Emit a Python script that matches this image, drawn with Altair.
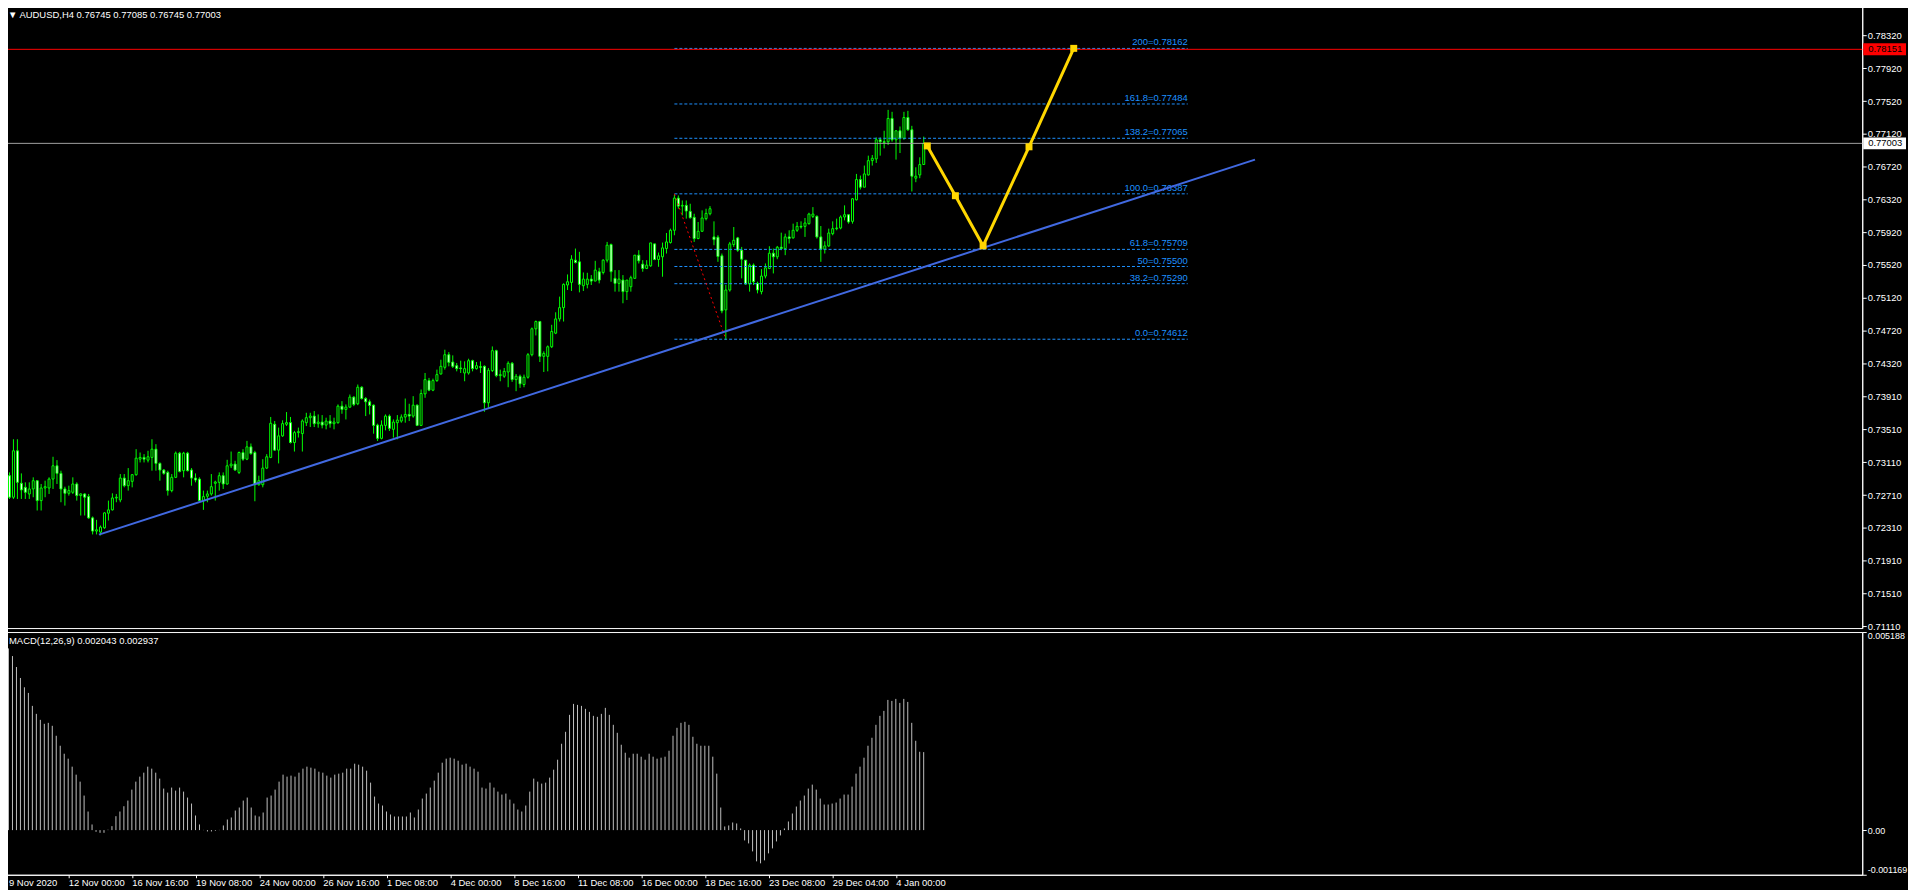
import altair as alt
import pandas as pd

# ---------------- data ----------------
open_ = [0.72946,0.72683,0.73250,0.72853,0.72804,0.72723,0.72784,0.72885,0.72642,0.72796,
 0.72796,0.72905,0.73067,0.72974,0.72784,0.72731,0.72743,0.72845,0.72703,0.72723,
 0.72691,0.72431,0.72270,0.72257,0.72310,0.72488,0.72529,0.72674,0.72650,0.72917,
 0.72824,0.72877,0.72958,0.73148,0.73169,0.73136,0.73169,0.73270,0.73096,0.73015,
 0.72986,0.72764,0.72926,0.73221,0.73007,0.73221,0.73015,0.72917,0.72905,0.72642,
 0.72695,0.72723,0.72853,0.72865,0.72946,0.72845,0.73067,0.73088,0.72986,0.73229,
 0.73148,0.73298,0.73229,0.72836,0.72836,0.73039,0.73169,0.73574,0.73258,0.73432,
 0.73574,0.73594,0.73351,0.73472,0.73460,0.73593,0.73654,0.73674,0.73581,0.73601,
 0.73564,0.73613,0.73581,0.73593,0.73795,0.73755,0.73783,0.73905,0.73824,0.74026,
 0.73888,0.73848,0.73807,0.73564,0.73402,0.73560,0.73674,0.73512,0.73593,0.73613,
 0.73662,0.73694,0.73674,0.73807,0.73560,0.73945,0.74107,0.73990,0.74107,0.74188,
 0.74269,0.74423,0.74334,0.74289,0.74261,0.74200,0.74200,0.74350,0.74253,0.74277,
 0.74281,0.73836,0.74229,0.74472,0.74168,0.74160,0.74212,0.74318,0.74119,0.74160,
 0.74059,0.74148,0.74423,0.74739,0.74828,0.74403,0.74403,0.74520,0.74686,0.74860,
 0.74998,0.75274,0.75306,0.75577,0.75557,0.75265,0.75282,0.75346,0.75322,0.75436,
 0.75427,0.75577,0.75768,0.75355,0.75294,0.75334,0.75193,0.75253,0.75355,0.75638,
 0.75529,0.75476,0.75508,0.75776,0.75585,0.75618,0.75719,0.75792,0.75942,0.76335,
 0.76237,0.76246,0.76173,0.76100,0.75841,0.75930,0.76084,0.76144,0.75861,0.75857,
 0.75630,0.74970,0.75213,0.75768,0.75849,0.75699,0.75577,0.75286,0.75517,0.75294,
 0.75193,0.75383,0.75476,0.75662,0.75618,0.75735,0.75719,0.75861,0.75849,0.75942,
 0.75990,0.75990,0.76023,0.76112,0.76112,0.75861,0.75711,0.75751,0.75901,0.75962,
 0.75970,0.76104,0.76132,0.76051,0.76314,0.76561,0.76468,0.76618,0.76792,0.76813,
 0.77047,0.77023,0.77023,0.77307,0.77047,0.77157,0.77064,0.77319,0.77169,0.76578,
 0.76618,0.76745]
high = [0.72986,0.73391,0.73391,0.72974,0.72865,0.72865,0.72926,0.72885,0.72845,0.72885,
 0.72926,0.73177,0.73136,0.73007,0.72812,0.72824,0.72926,0.72865,0.72731,0.72731,
 0.72723,0.72448,0.72407,0.72338,0.72500,0.72642,0.72731,0.72723,0.72966,0.72966,
 0.73039,0.72966,0.73270,0.73229,0.73209,0.73250,0.73391,0.73331,0.73108,0.73027,
 0.73007,0.72966,0.73241,0.73237,0.73237,0.73237,0.73039,0.72974,0.72926,0.72764,
 0.72764,0.72966,0.72885,0.72986,0.72986,0.73140,0.73241,0.73128,0.73241,0.73270,
 0.73371,0.73339,0.73250,0.72946,0.73148,0.73209,0.73663,0.73614,0.73533,0.73622,
 0.73723,0.73663,0.73493,0.73533,0.73634,0.73714,0.73714,0.73735,0.73694,0.73686,
 0.73654,0.73686,0.73654,0.73816,0.73856,0.73816,0.73937,0.73917,0.74059,0.74038,
 0.73905,0.73876,0.73816,0.73581,0.73621,0.73694,0.73694,0.73633,0.73686,0.73694,
 0.73888,0.73824,0.73917,0.73816,0.73998,0.74200,0.74140,0.74131,0.74241,0.74362,
 0.74484,0.74455,0.74415,0.74322,0.74350,0.74342,0.74374,0.74362,0.74334,0.74342,
 0.74293,0.74261,0.74524,0.74484,0.74241,0.74261,0.74342,0.74334,0.74188,0.74180,
 0.74180,0.74443,0.74755,0.74840,0.74836,0.74464,0.74536,0.74788,0.74941,0.75132,
 0.75294,0.75403,0.75638,0.75719,0.75679,0.75427,0.75423,0.75395,0.75569,0.75484,
 0.75589,0.75800,0.75780,0.75456,0.75456,0.75395,0.75274,0.75387,0.75638,0.75699,
 0.75577,0.75577,0.75788,0.75776,0.75670,0.75792,0.75909,0.75962,0.76375,0.76367,
 0.76306,0.76306,0.76266,0.76144,0.76043,0.76185,0.76205,0.76237,0.76051,0.75881,
 0.75658,0.75274,0.75800,0.75982,0.75861,0.75739,0.75577,0.75537,0.75537,0.75314,
 0.75468,0.75537,0.75747,0.75719,0.75751,0.75913,0.75901,0.75942,0.76023,0.76043,
 0.76051,0.76092,0.76156,0.76225,0.76124,0.75994,0.75808,0.75962,0.76051,0.76084,
 0.76124,0.76246,0.76132,0.76335,0.76630,0.76610,0.76732,0.76853,0.76861,0.77076,
 0.77076,0.77157,0.77412,0.77388,0.77157,0.77209,0.77388,0.77400,0.77217,0.76711,
 0.76833,0.77085]
low = [0.72662,0.72662,0.72662,0.72662,0.72662,0.72662,0.72683,0.72521,0.72521,0.72683,
 0.72723,0.72784,0.72845,0.72622,0.72581,0.72703,0.72723,0.72642,0.72460,0.72460,
 0.72419,0.72229,0.72229,0.72217,0.72298,0.72399,0.72521,0.72622,0.72622,0.72804,
 0.72764,0.72804,0.72946,0.73108,0.73108,0.73108,0.73007,0.73007,0.72885,0.72958,
 0.72703,0.72743,0.72917,0.72986,0.72926,0.72998,0.72824,0.72865,0.72634,0.72529,
 0.72622,0.72703,0.72642,0.72764,0.72784,0.72836,0.73039,0.73007,0.72966,0.73128,
 0.73136,0.73201,0.72634,0.72824,0.72804,0.73027,0.73160,0.73250,0.73096,0.73420,
 0.73553,0.73339,0.73241,0.73412,0.73241,0.73552,0.73540,0.73540,0.73532,0.73524,
 0.73512,0.73532,0.73512,0.73581,0.73702,0.73633,0.73775,0.73795,0.73807,0.73876,
 0.73674,0.73694,0.73459,0.73370,0.73390,0.73500,0.73492,0.73411,0.73390,0.73593,
 0.73593,0.73613,0.73654,0.73552,0.73552,0.73897,0.73978,0.73978,0.74091,0.74180,
 0.74241,0.74281,0.74261,0.74220,0.74200,0.74099,0.74180,0.74220,0.74241,0.74200,
 0.73726,0.73775,0.74212,0.74148,0.74099,0.74140,0.74026,0.74091,0.73978,0.74018,
 0.74026,0.74131,0.74403,0.74658,0.74334,0.74212,0.74220,0.74504,0.74674,0.74828,
 0.74828,0.75213,0.75201,0.75537,0.75184,0.75201,0.75233,0.75274,0.75322,0.75294,
 0.75403,0.75549,0.75314,0.75193,0.75193,0.75051,0.75091,0.75193,0.75355,0.75537,
 0.75436,0.75468,0.75496,0.75577,0.75496,0.75375,0.75658,0.75780,0.75881,0.76205,
 0.76124,0.76084,0.76084,0.75800,0.75833,0.75922,0.76063,0.76124,0.75760,0.75557,
 0.74929,0.74605,0.75193,0.75739,0.75679,0.75355,0.75274,0.75193,0.75274,0.75172,
 0.75160,0.75355,0.75468,0.75415,0.75589,0.75699,0.75638,0.75780,0.75841,0.75922,
 0.75962,0.75861,0.76011,0.76092,0.75841,0.75557,0.75658,0.75739,0.75881,0.75942,
 0.75954,0.76063,0.76023,0.76023,0.76306,0.76440,0.76468,0.76610,0.76732,0.76764,
 0.76853,0.76942,0.76983,0.77023,0.76805,0.76885,0.77047,0.77157,0.76416,0.76529,
 0.76578,0.76745]
close = [0.72683,0.73250,0.72865,0.72772,0.72743,0.72784,0.72885,0.72642,0.72796,0.72812,
 0.72905,0.73067,0.72974,0.72784,0.72731,0.72764,0.72845,0.72703,0.72723,0.72683,
 0.72431,0.72270,0.72286,0.72318,0.72492,0.72529,0.72674,0.72683,0.72917,0.72824,
 0.72885,0.72958,0.73160,0.73169,0.73148,0.73177,0.73270,0.73096,0.73015,0.72974,
 0.72764,0.72926,0.73221,0.72998,0.73221,0.73007,0.72917,0.72893,0.72642,0.72691,
 0.72723,0.72812,0.72869,0.72946,0.72845,0.73067,0.73088,0.73015,0.73229,0.73148,
 0.73298,0.73217,0.72836,0.72885,0.73039,0.73177,0.73586,0.73258,0.73432,0.73582,
 0.73594,0.73351,0.73472,0.73484,0.73614,0.73654,0.73674,0.73581,0.73601,0.73564,
 0.73613,0.73581,0.73601,0.73795,0.73755,0.73783,0.73905,0.73816,0.74026,0.73888,
 0.73848,0.73803,0.73560,0.73402,0.73564,0.73674,0.73524,0.73601,0.73625,0.73662,
 0.73694,0.73674,0.73807,0.73560,0.73949,0.74119,0.73990,0.74107,0.74180,0.74281,
 0.74423,0.74330,0.74281,0.74253,0.74253,0.74253,0.74350,0.74253,0.74289,0.74269,
 0.73836,0.74233,0.74472,0.74168,0.74180,0.74220,0.74318,0.74119,0.74160,0.74067,
 0.74148,0.74423,0.74739,0.74828,0.74403,0.74439,0.74520,0.74707,0.74860,0.74998,
 0.75282,0.75314,0.75589,0.75549,0.75282,0.75346,0.75346,0.75322,0.75456,0.75334,
 0.75577,0.75760,0.75436,0.75294,0.75346,0.75193,0.75334,0.75363,0.75638,0.75569,
 0.75476,0.75517,0.75788,0.75585,0.75630,0.75727,0.75800,0.75942,0.76335,0.76237,
 0.76246,0.76177,0.76096,0.75841,0.75930,0.76092,0.76148,0.76205,0.75828,0.75622,
 0.74958,0.75213,0.75776,0.75820,0.75699,0.75589,0.75286,0.75517,0.75314,0.75213,
 0.75383,0.75484,0.75662,0.75618,0.75735,0.75719,0.75861,0.75841,0.75942,0.75990,
 0.75982,0.76031,0.76140,0.76140,0.75861,0.75711,0.75751,0.75909,0.75962,0.75970,
 0.76104,0.76132,0.76043,0.76327,0.76561,0.76468,0.76630,0.76792,0.76821,0.77047,
 0.77023,0.77015,0.77307,0.77047,0.77157,0.77064,0.77319,0.77169,0.76602,0.76602,
 0.76744,0.77003]
macd_hist = [0.004559,0.004759,0.004559,0.004272,0.003985,0.003741,0.003593,0.003254,0.003045,0.002888,
 0.002784,0.002810,0.002732,0.002471,0.002210,0.002001,0.001871,0.001662,0.001453,0.001270,
 0.000905,0.000487,0.000148,-0.000044,-0.000070,-0.000070,0.000010,0.000104,0.000365,0.000487,
 0.000626,0.000774,0.001061,0.001270,0.001401,0.001505,0.001662,0.001610,0.001505,0.001349,
 0.001088,0.000983,0.001114,0.001035,0.001114,0.001009,0.000853,0.000696,0.000383,0.000148,
 0.000005,-0.000035,-0.000035,-0.000017,0.000005,0.000122,0.000278,0.000331,0.000513,0.000592,
 0.000774,0.000853,0.000592,0.000383,0.000357,0.000461,0.000853,0.000905,0.001061,0.001270,
 0.001453,0.001401,0.001427,0.001401,0.001505,0.001610,0.001662,0.001636,0.001610,0.001531,
 0.001505,0.001427,0.001375,0.001453,0.001479,0.001505,0.001610,0.001610,0.001740,0.001714,
 0.001662,0.001557,0.001244,0.000879,0.000696,0.000644,0.000487,0.000409,0.000357,0.000357,
 0.000357,0.000357,0.000461,0.000331,0.000539,0.000827,0.000957,0.001114,0.001296,0.001505,
 0.001766,0.001871,0.001897,0.001871,0.001818,0.001714,0.001740,0.001662,0.001610,0.001531,
 0.001114,0.001088,0.001244,0.001114,0.001009,0.000931,0.000957,0.000800,0.000696,0.000539,
 0.000487,0.000644,0.001009,0.001349,0.001270,0.001218,0.001244,0.001375,0.001583,0.001844,
 0.002262,0.002575,0.003019,0.003306,0.003280,0.003254,0.003176,0.003097,0.002993,0.002967,
 0.003045,0.003202,0.003019,0.002758,0.002549,0.002236,0.002027,0.001897,0.002001,0.002001,
 0.001923,0.001844,0.002001,0.001923,0.001871,0.001897,0.001923,0.002079,0.002471,0.002680,
 0.002810,0.002836,0.002758,0.002445,0.002262,0.002210,0.002210,0.002210,0.001923,0.001479,
 0.000592,0.000096,0.000122,0.000200,0.000174,0.000044,-0.000270,-0.000348,-0.000557,-0.000818,
 -0.000870,-0.000792,-0.000609,-0.000479,-0.000296,-0.000139,0.000044,0.000226,0.000435,0.000618,
 0.000774,0.000905,0.001088,0.001192,0.001061,0.000827,0.000670,0.000670,0.000696,0.000722,
 0.000827,0.000931,0.000931,0.001140,0.001479,0.001662,0.001897,0.002210,0.002419,0.002758,
 0.002993,0.003123,0.003410,0.003384,0.003437,0.003332,0.003437,0.003358,0.002810,0.002340,
 0.002053,0.002043]

x_labels = ["9 Nov 2020", "12 Nov 00:00", "16 Nov 16:00", "19 Nov 08:00", "24 Nov 00:00",
            "26 Nov 16:00", "1 Dec 08:00", "4 Dec 00:00", "8 Dec 16:00", "11 Dec 08:00",
            "16 Dec 00:00", "18 Dec 16:00", "23 Dec 08:00", "29 Dec 04:00", "4 Jan 00:00"]
x_label_bars = [0, 16, 32, 48, 64, 80, 96, 112, 128, 144, 160, 176, 192, 208, 224]
price_ticks = [0.78320, 0.77920, 0.77520, 0.77120, 0.76720, 0.76320, 0.75920, 0.75520,
               0.75120, 0.74720, 0.74320, 0.73910, 0.73510, 0.73110, 0.72710, 0.72310,
               0.71910, 0.71510, 0.71110]

fib_names = ["0.0", "38.2", "50", "61.8", "100.0", "138.2", "161.8", "200"]
fib_prices = [0.74612, 0.75290, 0.75500, 0.75709, 0.76387, 0.77065, 0.77484, 0.78162]
fib_from_bar, fib_to_bar = 168, 297.7

trend_bars = [22.6, 314.7]
trend_prices = [0.72226, 0.76805]
swing_bars = [168, 181]
swing_prices = [0.76387, 0.74612]
proj_bars = [231.9, 239.0, 246.0, 257.6, 268.9]
proj_prices = [0.76972, 0.76364, 0.75752, 0.76961, 0.78163]

level_prices = [0.78151, 0.77003]
level_colors = ["#FF0000", "#A0A0A0"]
box_colors = ["#FF0000", "#FFFFFF"]

header_main = "\u25BC  AUDUSD,H4  0.76745 0.77085 0.76745 0.77003"
header_macd = "MACD(12,26,9) 0.002043 0.002937"
macd_top, macd_bottom = 0.005188, -0.001169

# ---------------- build ----------------
W, H1, H2 = 1868, 625, 244
LIME = "#00FF00"
FONT = "Liberation Sans"
FS = 9.5

n = len(close)
cdf = pd.DataFrame({"i": list(range(n)), "o": open_, "h": high, "l": low, "c": close,
                    "m": macd_hist})
cdf["fillc"] = ["#FFFFFF" if c < o else "#000000" for o, c in zip(open_, close)]

xscale = alt.Scale(domain=[-0.125, W / 4 - 0.125], nice=False, zero=False)
yscale = alt.Scale(domain=[0.71086, 0.78676], nice=False, zero=False)
mscale = alt.Scale(domain=[macd_bottom, macd_top], nice=False, zero=False)

ax_common = dict(labelColor="white", tickColor="white", domainColor="white",
                 labelFont=FONT, grid=False, title=None, labelOverlap=False)

yaxis = alt.Axis(orient="right", values=price_ticks, format=".5f", labelPadding=1,
                 tickSize=4, labelFontSize=FS, **ax_common)
xnone = alt.X("i:Q", scale=xscale, axis=None)


def Yp(field):
    return alt.Y(field, scale=yscale, axis=yaxis)


wick = alt.Chart(cdf).mark_rule(color=LIME, strokeWidth=1).encode(
    x=xnone, y=Yp("l:Q"), y2="h:Q")
body = alt.Chart(cdf).mark_bar(width=2, stroke=LIME, strokeWidth=1).encode(
    x=xnone, y=Yp("o:Q"), y2="c:Q", fill=alt.Fill("fillc:N", scale=None))

lv = pd.DataFrame({"p": level_prices, "col": level_colors, "bg": box_colors,
                   "t": [f"{p:.5f}" for p in level_prices]})
levels = alt.Chart(lv).mark_rule(strokeWidth=1).encode(
    y=Yp("p:Q"), color=alt.Color("col:N", scale=None))
boxes = alt.Chart(lv).mark_rect(yOffset=-6, y2Offset=6).encode(
    y=Yp("p:Q"), y2="p:Q",
    x=alt.value(W + 1), x2=alt.value(W + 44), fill=alt.Fill("bg:N", scale=None))
box_txt = alt.Chart(lv).mark_text(align="left", baseline="middle", font=FONT,
                                  fontSize=FS, color="#000000").encode(
    y=Yp("p:Q"), x=alt.value(W + 6), text="t:N")

fdf = pd.DataFrame({"p": fib_prices, "xs": [fib_from_bar] * len(fib_prices),
                    "xe": [fib_to_bar] * len(fib_prices),
                    "t": [f"{nm}={p:.5f}" for nm, p in zip(fib_names, fib_prices)]})
fib_lines = alt.Chart(fdf).mark_rule(color="#1E90FF", strokeWidth=1, strokeDash=[3, 2]).encode(
    x=alt.X("xs:Q", scale=xscale, axis=None), x2="xe:Q", y=Yp("p:Q"))
fib_text = alt.Chart(fdf).mark_text(align="right", baseline="bottom", dy=-1, font=FONT,
                                    fontSize=FS, color="#1E90FF").encode(
    x=alt.X("xe:Q", scale=xscale, axis=None), y=Yp("p:Q"), text="t:N")

sdf = pd.DataFrame({"x": swing_bars, "p": swing_prices})
swing = alt.Chart(sdf).mark_line(color="#FF0000", strokeWidth=1, strokeDash=[2, 3]).encode(
    x=alt.X("x:Q", scale=xscale, axis=None), y=Yp("p:Q"))

tdf = pd.DataFrame({"x": trend_bars, "p": trend_prices})
trend = alt.Chart(tdf).mark_line(color="#4169E1", strokeWidth=2).encode(
    x=alt.X("x:Q", scale=xscale, axis=None), y=Yp("p:Q"))

pdf = pd.DataFrame({"x": proj_bars, "p": proj_prices, "k": list(range(len(proj_bars)))})
proj = alt.Chart(pdf).mark_line(color="#FFD700", strokeWidth=3).encode(
    x=alt.X("x:Q", scale=xscale, axis=None), y=Yp("p:Q"), order="k:Q")
proj_pts = alt.Chart(pdf).mark_square(color="#FFD700", size=49, opacity=1).encode(
    x=alt.X("x:Q", scale=xscale, axis=None), y=Yp("p:Q"))

hdr = alt.Chart(pd.DataFrame({"t": [header_main]})).mark_text(
    align="left", baseline="middle", font=FONT, fontSize=FS, color="#FFFFFF").encode(
    x=alt.value(4), y=alt.value(9), text="t:N")

main = alt.layer(wick, body, fib_lines, fib_text, levels, swing, trend, proj, proj_pts,
                 boxes, box_txt, hdr).properties(width=W, height=H1)

# MACD pane
xlab_expr = "[" + ",".join(f"'{s}'" for s in x_labels) + "][round(datum.value/16)]"
xaxis = alt.Axis(orient="bottom", values=x_label_bars[1:], labelExpr=xlab_expr,
                 labelAlign="left", labelBaseline="top", labelPadding=0, tickSize=3,
                 labelFlush=False, labelBound=False, labelFontSize=FS, **ax_common)
maxis = alt.Axis(orient="right", values=[macd_bottom, 0, macd_top], labelPadding=1,
                 tickSize=4,
                 labelExpr=("datum.value > 0.005 ? '0.005188' : "
                            "(datum.value < -0.001 ? '-0.001169' : '0.00')"),
                 labelBaseline={"condition": [
                     {"test": "datum.value > 0.005", "value": "top"},
                     {"test": "datum.value < -0.001", "value": "bottom"}],
                     "value": "middle"},
                 labelFontSize=9, **ax_common)
mbars = alt.Chart(cdf).mark_rule(color="#C0C0C0", strokeWidth=1).encode(
    x=alt.X("i:Q", scale=xscale, axis=xaxis),
    y=alt.Y("m:Q", scale=mscale, axis=maxis), y2=alt.datum(0))
mhdr = alt.Chart(pd.DataFrame({"t": [header_macd]})).mark_text(
    align="left", baseline="middle", font=FONT, fontSize=FS, color="#FFFFFF").encode(
    x=alt.value(5), y=alt.value(9), text="t:N")
first_lab = alt.Chart(pd.DataFrame({"t": [x_labels[0]]})).mark_text(
    align="left", baseline="top", font=FONT, fontSize=FS, color="#FFFFFF").encode(
    x=alt.value(5), y=alt.value(H2 + 3), text="t:N")
macd = alt.layer(mbars, mhdr, first_lab).properties(width=W, height=H2)

chart = alt.vconcat(main, macd, spacing=4, bounds="flush").resolve_scale(
    x="independent").properties(
    padding={"left": -5, "top": -5, "right": 0, "bottom": 0},
    background="#000000").configure_view(stroke="#FFFFFF", strokeWidth=1)

chart.save("out.html", embed_options={"renderer": "svg", "actions": False})
